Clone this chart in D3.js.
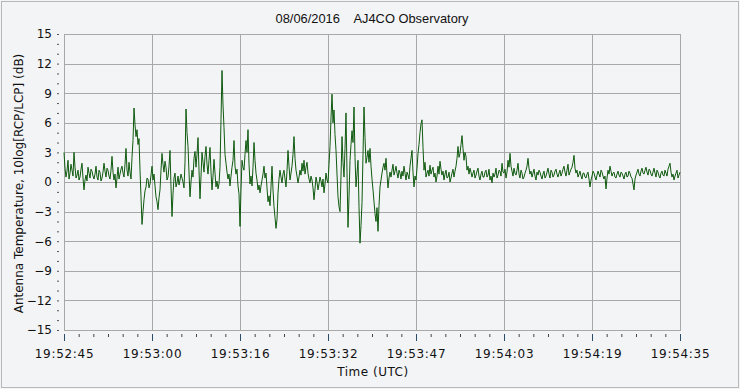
<!DOCTYPE html>
<html>
<head>
<meta charset="utf-8">
<script src="https://cdn.jsdelivr.net/npm/d3@7"></script>
<style>
  html, body { margin: 0; padding: 0; background: #f3f4f6; }
  svg { display: block; }
  text { font-family: "DejaVu Sans", Verdana, sans-serif; fill: #111; }
</style>
</head>
<body>
<svg id="chart" width="740" height="389"></svg>
<script>
// ---- data ----
const titleText = "08/06/2016    AJ4CO Observatory";
const yAxisTitle = "Antenna Temperature, 10log[RCP/LCP] (dB)";
const xAxisTitle = "Time (UTC)";
const startTime = "19:52:45";
const spanSeconds = 110;
const yTicks = [15, 12, 9, 6, 3, 0, -3, -6, -9, -12, -15];
const xTickCount = 8;
// antenna temperature ratio (dB), evenly sampled over the span
const values = [
  3.0, 1.4, 0.5, 1.1, 2.2, 0.3, 0.9, 1.8, 1.2, 0.6, 3.0, 1.5, 0.4, 0.7, 1.2, 0.2, 0.5, 1.3, 1.9, 0.4,
  -0.8, 0.2, 0.7, 0.1, 1.5, 0.9, 0.4, 1.3, 1.1, 0.6, 0.3, 0.8, 1.6, 0.5, 0.2, 1.2, 1.0, 0.1, 0.4, 1.0,
  1.9, 1.1, 0.5, 1.4, 1.2, 0.6, 0.3, 1.2, 2.6, 1.0, 0.2, 0.8, -0.6, 0.4, 1.5, 0.3, 0.8, 1.3, 1.6, 0.9,
  0.5, 1.8, 3.4, 1.2, 0.6, 2.0, 1.0, 0.3, 2.5, 4.2, 7.5, 5.8, 4.6, 5.3, 3.8, 4.4, 1.2, -1.5, -4.3, -3.0,
  -1.8, -0.9, -0.5, 0.4, 0.3, -0.6, -0.2, 0.7, 1.6, 0.2, 0.8, -0.4, -1.5, -2.0, -2.8, -1.6, -0.8, 1.2, 2.9, 1.8,
  1.0, 2.1, 1.5, 0.2, 0.5, 1.6, 3.2, -0.5, -3.5, -1.2, 0.4, 0.9, -0.5, -0.1, 0.6, -0.3, 0.2, 0.8, 0.4, 0.0,
  -0.6, 2.0, 7.4, 5.0, 3.6, 1.0, -1.5, 0.0, 1.2, 0.5, 2.4, 3.1, 1.5, 2.8, 4.5, 1.2, -1.7, 0.6, 3.0, 2.0,
  1.0, 2.6, 3.6, 1.8, 0.8, 2.2, 3.5, 1.0, -0.8, 0.6, 2.3, 0.9, -0.5, 0.1, -0.7, -0.2, 1.5, 6.3, 11.3, 7.8,
  5.5, 2.8, 1.9, 1.0, 0.3, 0.8, -0.4, 0.6, 1.5, 2.2, 4.2, 1.6, 0.8, 1.3, -0.4, -1.2, -4.5, -0.8, 2.2, 1.5,
  1.2, 2.8, 4.2, 3.0, 5.3, 1.8, -0.2, 0.6, -0.4, 1.5, 4.0, 2.2, 0.9, 0.2, -0.8, -0.3, -1.1, -0.4, 0.2, 0.8,
  1.6, 0.4, 0.9, -0.6, -2.0, -1.4, -2.4, -0.5, 1.6, -0.8, -2.5, -3.6, -4.7, -3.8, -1.1, 0.3, 1.2, 0.5, -0.1, 0.8,
  1.2, 0.3, -0.5, 1.1, 3.2, 1.6, 0.2, 0.9, 1.6, 2.8, 4.6, 2.4, 1.2, 0.6, -0.1, 0.5, 1.2, 0.7, 1.9, 1.1,
  2.2, 0.8, 1.5, 2.0, 0.9, 0.3, -0.1, 0.6, 0.2, -0.6, -1.8, -0.7, 0.5, 0.0, -0.8, -0.2, 0.5, 0.1, -0.5, 0.3,
  -1.1, -0.2, 0.9, 0.2, -0.1, 1.8, 3.6, 6.5, 8.9, 6.0, 7.3, 4.8, 3.2, 0.8, -1.5, -2.5, -3.0, 0.6, 4.6, 2.0,
  0.5, 3.4, 7.0, 1.0, -4.6, -1.5, 2.2, 3.8, 5.2, 4.0, 7.6, 2.5, -0.5, 0.8, 2.2, -2.5, -6.2, -4.4, -2.1, 2.8,
  7.6, 4.5, 1.9, 2.5, 3.2, 2.0, 3.4, 1.6, 0.3, -0.8, -2.0, -3.2, -4.0, -2.6, -5.0, -2.4, -0.5, 0.2, 0.9, 1.5,
  1.9, 1.2, 2.4, 0.8, -0.6, 0.4, 1.0, 0.5, 1.2, 1.8, 0.7, 1.1, 1.6, 0.9, 0.4, 1.2, 0.9, 0.3, 1.1, 0.6,
  1.6, 0.9, 0.2, 1.0, 0.7, 0.3, 1.6, 2.4, 3.2, 1.0, -0.5, 0.6, 0.2, 1.4, 2.9, 3.8, 5.0, 5.9, 6.3, 3.5,
  1.2, 2.0, 0.5, 0.9, 1.2, 0.6, 1.7, 0.8, 1.2, 1.5, 0.5, 0.9, 0.0, 0.6, 1.6, 0.8, 2.1, 1.3, 0.7, 1.1,
  0.2, 0.8, 1.2, 0.4, 0.5, 1.0, 0.0, 0.4, 0.9, 1.3, 0.5, 1.1, 1.6, 2.4, 3.6, 2.5, 2.9, 3.8, 4.7, 3.4,
  2.2, 3.0, 2.6, 1.2, 1.6, 0.8, 1.4, 1.0, 0.5, 0.9, 1.2, 0.4, 0.7, 1.1, 1.4, 0.6, 0.2, 0.8, 1.1, 0.5,
  0.5, 1.0, 1.2, 0.5, 0.7, 1.3, 0.2, 0.6, -0.1, 0.9, 0.5, 0.8, 1.4, 0.4, 0.7, 1.2, 1.1, 0.6, 1.9, 1.0,
  0.9, 1.3, 0.4, 1.0, 2.2, 1.5, 2.9, 1.6, 1.1, 0.6, 1.4, 0.9, 0.7, 1.2, 1.9, 0.8, 0.4, 1.2, 0.9, 0.3,
  0.5, 0.9, 1.2, 1.6, 2.4, 1.4, 0.8, 1.1, 0.5, 0.9, 1.3, 0.6, 0.2, 1.0, 0.7, 1.2, 1.0, 0.6, 0.3, 0.8,
  1.1, 0.4, 0.6, 1.0, 1.4, 0.8, 0.4, 1.2, 1.0, 0.5, 0.7, 1.1, 1.3, 0.8, 0.5, 0.9, 1.2, 0.6, 0.9, 1.3,
  1.6, 1.0, 0.6, 1.2, 1.8, 0.7, 1.0, 1.3, 1.5, 2.0, 2.7, 1.4, 0.9, 1.2, 0.5, 0.8, 1.1, 0.6, 0.3, 0.9,
  0.9, 0.5, 0.4, 0.8, 1.0, 0.3, -0.5, 0.2, 0.6, 1.1, 0.9, 0.5, 0.2, 0.7, 1.1, 0.8, 0.5, 1.2, 1.0, 0.6,
  0.3, 0.6, -0.7, 0.4, 1.2, 0.8, 1.6, 1.1, 0.6, 0.9, 1.0, 0.5, 0.4, 0.8, 1.1, 0.7, 0.5, 1.0, 0.9, 0.6,
  0.3, 0.8, 1.0, 0.5, 0.6, 1.1, 0.9, 0.5, 0.4, -0.2, -0.8, 0.3, 0.7, 1.0, 1.3, 0.8, 0.6, 1.1, 1.4, 0.9,
  0.8, 1.2, 1.5, 1.0, 0.7, 1.3, 1.2, 0.8, 0.6, 1.0, 1.4, 0.9, 0.5, 1.2, 1.0, 0.6, 0.4, 0.9, 1.1, 0.7,
  0.6, 1.2, 0.9, 0.6, 1.3, 1.6, 1.9, 1.0, 0.5, 0.8, 0.2, 0.6, 0.9, 1.2, 0.4, 0.7, 1.0
];

// ---- layout ----
const W = 740, H = 389;
const plot = { left: 64, right: 680, top: 34, bottom: 330 };
const svg = d3.select("#chart");

svg.append("rect").attr("x", 0).attr("y", 0).attr("width", W).attr("height", H).attr("fill", "#f3f4f6");
svg.append("rect").attr("x", 1.5).attr("y", 1.5).attr("width", W - 3).attr("height", H - 3)
  .attr("fill", "none").attr("stroke", "#b8b8b8");

const parse = d3.timeParse("%H:%M:%S");
const t0 = parse(startTime);
const t1 = new Date(t0.getTime() + spanSeconds * 1000);
const x = d3.scaleTime().domain([t0, t1]).range([plot.left, plot.right]);
const y = d3.scaleLinear().domain([-15, 15]).range([plot.bottom, plot.top]);

const step = spanSeconds * 1000 / (values.length - 1);
const data = values.map((v, i) => ({ t: new Date(t0.getTime() + i * step), v }));

const xTickVals = d3.range(xTickCount).map(i => new Date(t0.getTime() + i * spanSeconds * 1000 / (xTickCount - 1)));
const xMinorVals = d3.range((xTickCount - 1) * 6 + 1).map(i => new Date(t0.getTime() + i * spanSeconds * 1000 / ((xTickCount - 1) * 6)));
const yMinorVals = d3.range(-15, 16, 1);

// grid
const grid = svg.append("g").attr("stroke", "#a8a8a8").attr("stroke-width", 1);
yTicks.forEach(v => {
  grid.append("line").attr("x1", plot.left).attr("x2", plot.right)
    .attr("y1", Math.round(y(v)) + 0.5).attr("y2", Math.round(y(v)) + 0.5);
});
xTickVals.forEach(t => {
  grid.append("line").attr("y1", plot.top).attr("y2", plot.bottom)
    .attr("x1", Math.round(x(t)) + 0.5).attr("x2", Math.round(x(t)) + 0.5);
});

// y axis ticks & labels
const yAxis = d3.axisLeft(y).tickValues(yMinorVals).tickSize(2).tickFormat(() => "");
const yg = svg.append("g").attr("transform", `translate(${plot.left - 5},0)`).call(yAxis);
yg.select(".domain").remove();
yg.selectAll(".tick line").attr("stroke", "#555");
const yLab = d3.axisLeft(y).tickValues(yTicks).tickSize(0).tickPadding(0).tickFormat(d3.format("d"));
const yl = svg.append("g").attr("transform", `translate(${plot.left - 12},0)`).call(yLab);
yl.select(".domain").remove();
yl.selectAll("text").attr("font-size", 12).attr("font-family", "DejaVu Sans, Verdana, sans-serif").attr("fill", "#111");

// x axis ticks & labels
const xMinor = d3.axisBottom(x).tickValues(xMinorVals).tickSize(3).tickFormat(() => "");
const xm = svg.append("g").attr("transform", `translate(0,${plot.bottom + 4})`).call(xMinor);
xm.select(".domain").remove();
xm.selectAll(".tick line").attr("stroke", "#444");
const xMajor = d3.axisBottom(x).tickValues(xTickVals).tickSize(7).tickPadding(8).tickFormat(d3.timeFormat("%H:%M:%S"));
const xg = svg.append("g").attr("transform", `translate(0,${plot.bottom + 4})`).call(xMajor);
xg.select(".domain").remove();
xg.selectAll(".tick line").attr("stroke", "#2b4b6b");
xg.selectAll("text").attr("font-size", 12).attr("letter-spacing", "0.7px")
  .attr("font-family", "DejaVu Sans, Verdana, sans-serif").attr("fill", "#111");

// frame
svg.append("rect").attr("x", plot.left + 0.5).attr("y", plot.top + 0.5)
  .attr("width", plot.right - plot.left).attr("height", plot.bottom - plot.top)
  .attr("fill", "none").attr("stroke", "#a8a8a8");

// line
const line = d3.line().x(d => x(d.t)).y(d => y(d.v));
svg.append("path").datum(data).attr("d", line)
  .attr("fill", "none").attr("stroke", "#0f5a0f").attr("stroke-width", 1);

// titles
svg.append("text").attr("x", 372).attr("y", 23).attr("text-anchor", "middle")
  .attr("font-size", 13).attr("textLength", 193).attr("lengthAdjust", "spacingAndGlyphs")
  .style("font-family", "'Liberation Sans Narrow', 'Liberation Sans', sans-serif")
  .style("white-space", "pre").text(titleText);
svg.append("text").attr("transform", "translate(23,183.5) rotate(-90)").attr("text-anchor", "middle")
  .attr("font-size", 12).text(yAxisTitle);
svg.append("text").attr("x", 373).attr("y", 376).attr("text-anchor", "middle")
  .attr("font-size", 12).attr("letter-spacing", "0.5px").text(xAxisTitle);
</script>
</body>
</html>
